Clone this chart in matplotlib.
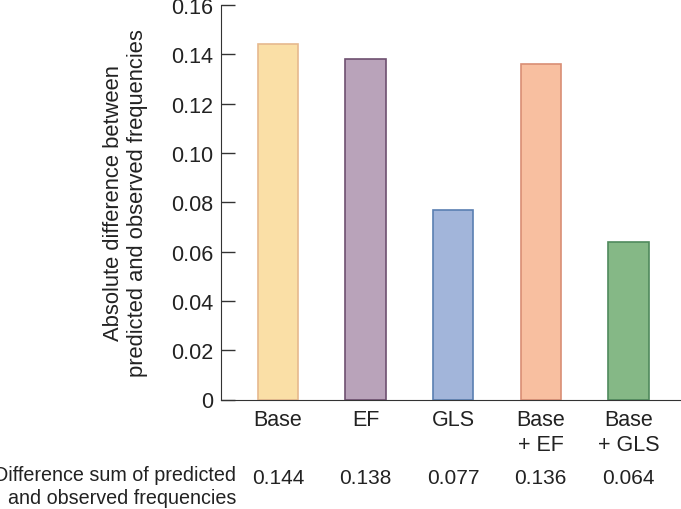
import numpy as np
import matplotlib.pyplot as plt

plt.rcParams['font.family'] = ['Liberation Sans', 'DejaVu Sans']

# data
labels = ["Base", "EF", "GLS", "Base\n+ EF", "Base\n+ GLS"]
values = [0.144, 0.138, 0.077, 0.136, 0.064]
value_text = ["0.144", "0.138", "0.077", "0.136", "0.064"]
yticks = [0, 0.02, 0.04, 0.06, 0.08, 0.10, 0.12, 0.14, 0.16]
ytick_text = ["0", "0.02", "0.04", "0.06", "0.08", "0.10", "0.12", "0.14", "0.16"]

fills = ["#fadfa6", "#b9a3ba", "#a2b5da", "#f8bfa0", "#85b886"]
edges = ["#e6b98e", "#6e5070", "#5a7fb2", "#d98e74", "#4f8a5c"]

fig = plt.figure(figsize=(6.81, 5.10), dpi=100)
ax = fig.add_axes([221/681, 109.5/510, 460/681, 394.5/510])

x = np.arange(len(labels))
ax.bar(x, values, width=0.46, color=fills, edgecolor=edges, linewidth=1.2)

ax.set_xlim(-0.65, 4.6)
ax.set_ylim(0, 0.16)
ax.set_yticks(yticks)
ax.set_yticklabels(ytick_text)
ax.set_xticks(x)
ax.set_xticklabels(labels)
for lab in ax.get_xticklabels():
    lab.set_linespacing(1.3)

ax.spines['top'].set_visible(False)
ax.spines['right'].set_visible(False)
ax.spines['left'].set_color('#333333')
ax.spines['bottom'].set_color('#333333')

ax.tick_params(axis='y', direction='in', length=10, width=1, color='#333333',
               pad=5.8, labelsize=15.5, labelcolor='#222222')
ax.tick_params(axis='x', length=0, pad=6.5, labelsize=15.5, labelcolor='#222222')

ax.set_ylabel("Absolute difference between\npredicted and observed frequencies",
              fontsize=15.8, color='#222222', linespacing=1.15)
ax.yaxis.set_label_coords(-0.159, 0.5)

# row of sums under the chart
for xi, t in zip(x, value_text):
    ax.text(xi, -0.174, t, transform=ax.get_xaxis_transform(),
            ha='center', va='top', fontsize=15, color='#222222')
ax.text(236/681, 44/510, "Difference sum of predicted\nand observed frequencies",
        transform=fig.transFigure, ha='right', va='top', fontsize=14.2,
        color='#222222', multialignment='right', linespacing=1.27)

fig.savefig("out.png", dpi=100)
